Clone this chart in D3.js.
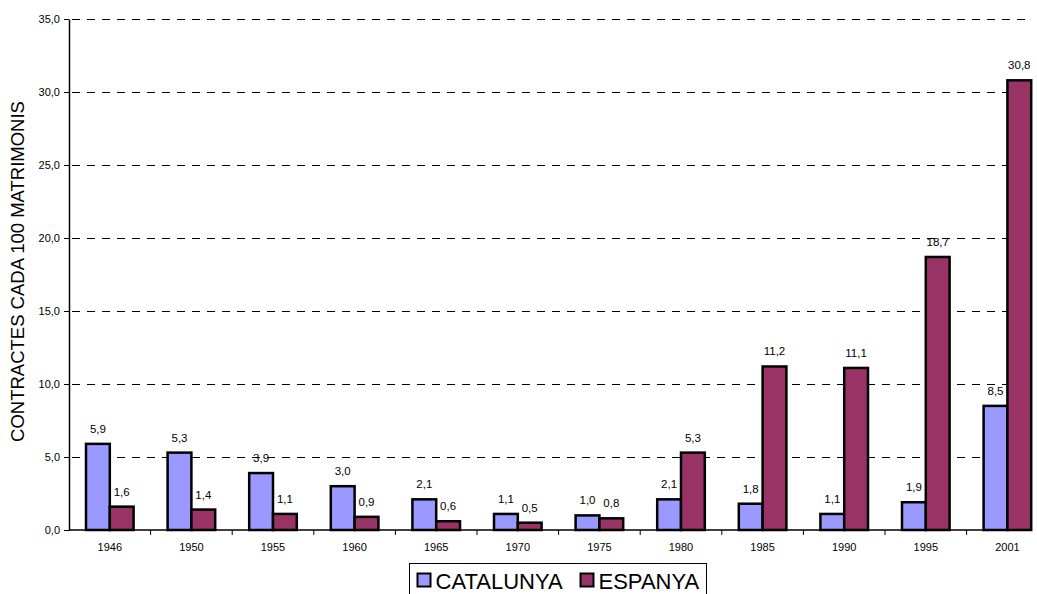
<!DOCTYPE html>
<html>
<head>
<meta charset="utf-8">
<script src="https://cdn.jsdelivr.net/npm/d3@7"></script>
<style>
  body { margin: 0; background: #fff; }
  svg { display: block; font-family: Arial, "Liberation Sans", sans-serif; }
</style>
</head>
<body>
<svg id="chart" width="1037" height="594"></svg>
<script>
var years = ["1946", "1950", "1955", "1960", "1965", "1970", "1975", "1980", "1985", "1990", "1995", "2001"];
var catalunya = [5.9, 5.3, 3.9, 3.0, 2.1, 1.1, 1.0, 2.1, 1.8, 1.1, 1.9, 8.5];
var espanya = [1.6, 1.4, 1.1, 0.9, 0.6, 0.5, 0.8, 5.3, 11.2, 11.1, 18.7, 30.8];
var seriesNames = ["CATALUNYA", "ESPANYA"];
var yTicks = [0, 5, 10, 15, 20, 25, 30, 35];

var colors = ["#9999ff", "#993366"];

var margin = { top: 19, left: 69 },
    height = 511,
    plotWidth = 962,
    bandWidth = 81.6;

var svg = d3.select("#chart");
var chart = svg.append("g")
    .attr("transform", "translate(" + margin.left + "," + margin.top + ")");

var x = d3.scaleBand().domain(years).range([0, bandWidth * years.length]);
var xInner = d3.scaleBand().domain(seriesNames).range([17, bandWidth - 17]);
var y = d3.scaleLinear().domain([0, 35]).range([height, 0]);

var fmt = function(v) { return v.toFixed(1).replace(".", ","); };

// dashed gridlines
chart.selectAll(".grid")
    .data(yTicks.filter(function(d) { return d > 0; }))
    .enter().append("line")
    .attr("x1", 0).attr("x2", plotWidth)
    .attr("y1", function(d) { return Math.round(y(d)) + 0.5; })
    .attr("y2", function(d) { return Math.round(y(d)) + 0.5; })
    .attr("stroke", "#000")
    .attr("stroke-width", 1)
    .attr("stroke-dasharray", "8,7")
    .attr("stroke-dashoffset", -3);

var rows = years.map(function(yr, i) {
    return { year: yr, values: [catalunya[i], espanya[i]] };
});

var groups = chart.selectAll(".group")
    .data(rows)
    .enter().append("g")
    .attr("transform", function(d) { return "translate(" + x(d.year) + ",0)"; });

groups.selectAll("rect")
    .data(function(d) { return d.values.map(function(v, j) { return { name: seriesNames[j], v: v, j: j }; }); })
    .enter().append("rect")
    .attr("x", function(d) { return xInner(d.name); })
    .attr("width", xInner.bandwidth())
    .attr("y", function(d) { return y(d.v); })
    .attr("height", function(d) { return height - y(d.v); })
    .attr("fill", function(d) { return colors[d.j]; })
    .attr("stroke", "#000")
    .attr("stroke-width", 2.5);

groups.selectAll(".lbl")
    .data(function(d) { return d.values.map(function(v, j) { return { name: seriesNames[j], v: v }; }); })
    .enter().append("text")
    .attr("x", function(d) { return xInner(d.name) + xInner.bandwidth() / 2; })
    .attr("y", function(d) { return y(d.v) - 11; })
    .attr("text-anchor", "middle")
    .attr("font-size", "11.5px")
    .attr("fill", "#000")
    .text(function(d) { return fmt(d.v); });

// y axis
var yAxis = d3.axisLeft(y).tickValues(yTicks).tickSize(5).tickSizeOuter(0).tickPadding(4).tickFormat(fmt);
var yg = chart.append("g").call(yAxis);
yg.select(".domain").attr("stroke-width", 1.5);
yg.selectAll("text").attr("font-size", "11px").attr("font-family", "Arial, 'Liberation Sans', sans-serif");

// x axis
var xg = chart.append("g").attr("transform", "translate(0," + height + ")");
xg.append("line").attr("x1", 0).attr("x2", plotWidth).attr("stroke", "#000").attr("stroke-width", 1.5);
xg.selectAll(".tick")
    .data(years.slice(1))
    .enter().append("line")
    .attr("x1", function(d) { return x(d); })
    .attr("x2", function(d) { return x(d); })
    .attr("y1", 0).attr("y2", 5)
    .attr("stroke", "#000");
xg.selectAll(".xl")
    .data(years)
    .enter().append("text")
    .attr("x", function(d) { return x(d) + x.bandwidth() / 2; })
    .attr("y", 21)
    .attr("text-anchor", "middle")
    .attr("font-size", "11px")
    .text(function(d) { return d; });

// y title
svg.append("text")
    .attr("transform", "translate(24," + (margin.top + height / 2 - 3) + ") rotate(-90)")
    .attr("text-anchor", "middle")
    .attr("font-size", "18.5px")
    .text("CONTRACTES CADA 100 MATRIMONIS");

// legend
var legend = svg.append("g").attr("transform", "translate(409.5,563.5)");
legend.append("rect")
    .attr("width", 297).attr("height", 40)
    .attr("fill", "#fff").attr("stroke", "#000").attr("stroke-width", 1);
var legX = [8, 171];
seriesNames.forEach(function(name, i) {
    legend.append("rect")
        .attr("x", legX[i]).attr("y", 10)
        .attr("width", 13).attr("height", 13)
        .attr("fill", colors[i]).attr("stroke", "#000").attr("stroke-width", 2);
    legend.append("text")
        .attr("x", legX[i] + 18).attr("y", 25)
        .attr("font-size", "22px")
        .text(name);
});
</script>
</body>
</html>
